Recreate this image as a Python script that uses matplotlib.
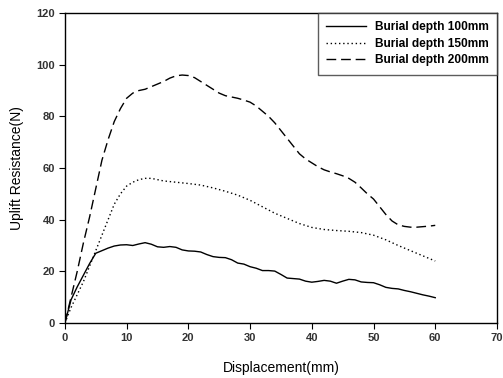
import matplotlib
matplotlib.use("Agg")
import matplotlib.pyplot as plt

plt.rcParams['font.family'] = ['Liberation Sans', 'DejaVu Sans']

# displacement (mm) and uplift resistance (N)
x100 = [0, 1, 2, 3, 4, 5, 6, 7, 8, 9, 10, 11, 12, 13, 14, 15, 16, 17, 18, 19, 20,
        21, 22, 23, 24, 25, 26, 27, 28, 29, 30, 31, 32, 33, 34, 35, 36, 37, 38, 39, 40,
        41, 42, 43, 44, 45, 46, 47, 48, 49, 50, 51, 52, 53, 54, 55, 56, 57, 58, 59, 60]
y100 = [0, 9, 14, 18.5, 23, 27, 28, 29, 29.8, 30.2, 30.3, 30, 30.6, 31.1, 30.5, 29.5, 29.3, 29.6, 29.3, 28.3, 27.9,
        27.8, 27.5, 26.5, 25.7, 25.4, 25.3, 24.5, 23.2, 22.8, 21.8, 21.2, 20.3, 20.3, 20.1, 18.8, 17.4, 17.2, 17.0, 16.2, 15.8,
        16.1, 16.5, 16.2, 15.4, 16.2, 16.9, 16.7, 15.9, 15.7, 15.6, 14.8, 13.8, 13.4, 13.2, 12.6, 12.1, 11.5, 10.9, 10.4, 9.8]

x150 = [0, 1, 2, 3, 4, 5, 6, 7, 8, 9, 10, 11, 12, 13, 14, 15, 16, 18, 20, 22, 24, 26, 28, 30,
        32, 34, 36, 38, 40, 42, 44, 46, 48, 50, 52, 54, 56, 58, 60]
y150 = [0, 6, 11, 16, 22, 28, 34, 40, 46, 50, 53, 54.5, 55.5, 56, 56, 55.5, 55, 54.5, 54, 53.4, 52.3, 51, 49.5, 47.5,
        45, 42.5, 40.5, 38.5, 37, 36.2, 35.8, 35.5, 35, 34, 32.2, 30, 28, 26, 24]

x200 = [0, 1, 2, 3, 4, 5, 6, 7, 8, 9, 10, 11, 12, 13, 14, 15, 16, 17, 18, 19, 20,
        21, 22, 23, 24, 25, 26, 27, 28, 29, 30, 31, 32, 33, 34, 35, 36, 37, 38, 39, 40,
        41, 42, 43, 44, 45, 46, 47, 48, 49, 50, 51, 52, 53, 54, 55, 56, 57, 58, 59, 60]
y200 = [0, 10, 20, 31, 41, 52, 63, 71, 78, 83, 87, 89, 90, 90.5, 91.5, 92.5, 93.5, 94.8, 95.7, 96, 95.8,
        95, 93.5, 92, 90.5, 89, 88, 87.5, 87, 86.3, 85.5, 84, 82, 80, 77.5, 74.5, 71.5, 68.5, 65.5, 63.5, 62,
        60.5, 59.3, 58.5, 57.8, 57, 56, 54.5, 52.3, 50, 48, 45, 42, 39.5, 38, 37.4, 37.1, 37.1, 37.3, 37.5, 37.8]

labels = ['Burial depth 100mm', 'Burial depth 150mm', 'Burial depth 200mm']

fig = plt.figure(figsize=(5.03, 3.78), dpi=100)
ax = fig.add_axes([0.129, 0.1455, 0.859, 0.82])

ax.plot(x100, y100, color='black', lw=1.0, ls='-', label=labels[0])
ax.plot(x150, y150, color='black', lw=1.0, ls=(0, (1, 2)), label=labels[1])
ax.plot(x200, y200, color='black', lw=1.0, ls=(0, (7, 3.5)), label=labels[2])

ax.set_xlim(0, 70)
ax.set_ylim(0, 120)
ax.set_xticks(range(0, 71, 10))
ax.set_yticks(range(0, 121, 20))
ax.tick_params(direction='out', length=4, width=0.8, labelsize=8, pad=3)
for lab in ax.get_xticklabels() + ax.get_yticklabels():
    lab.set_fontweight('bold')
    lab.set_color('#333333')
for s in ax.spines.values():
    s.set_linewidth(1.0)

ax.set_xlabel('Displacement(mm)', fontsize=10, labelpad=13)
ax.set_ylabel('Uplift Resistance(N)', fontsize=10, labelpad=9)

leg = ax.legend(loc='upper right', prop={'weight': 'bold', 'size': 8.6},
                frameon=True, fancybox=False, borderaxespad=0, handlelength=3.3,
                handletextpad=0.75, labelspacing=0.38, borderpad=0.7)
leg.get_frame().set_edgecolor('#333333')
leg.get_frame().set_linewidth(1.0)

fig.savefig('out.png', dpi=100)
